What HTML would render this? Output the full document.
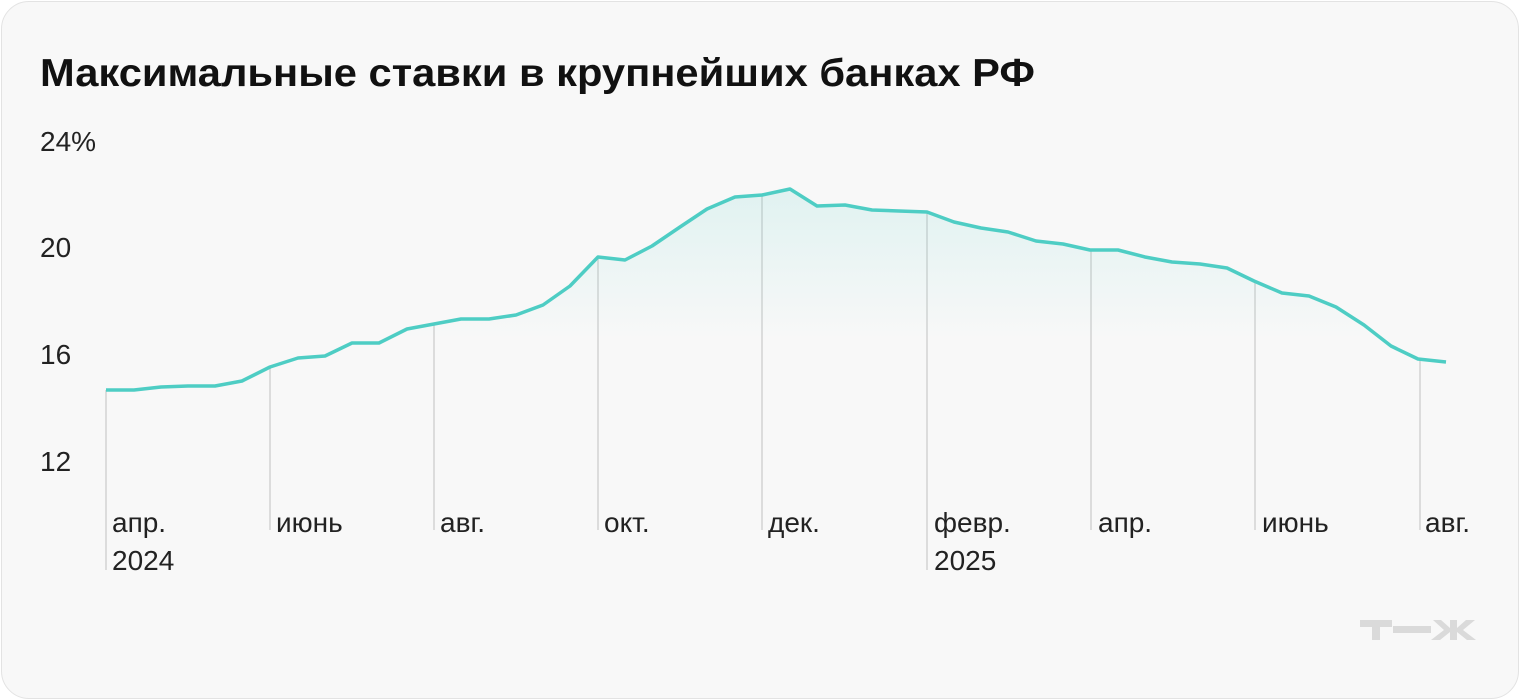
<!DOCTYPE html>
<html><head><meta charset="utf-8"><style>
html,body{margin:0;padding:0;background:#fff;}
.card{position:absolute;left:1px;top:1px;width:1516px;height:696px;border:1px solid #e3e3e3;border-radius:28px;background:#f8f8f8;overflow:hidden;}
svg{position:absolute;left:0;top:0;}
text{font-family:"Liberation Sans",sans-serif;}
</style></head><body>
<div class="card"></div>
<svg width="1520" height="700" viewBox="0 0 1520 700">
<defs><linearGradient id="g" x1="0" y1="190" x2="0" y2="340" gradientUnits="userSpaceOnUse">
<stop offset="0" stop-color="#4ecdc4" stop-opacity="0.14"/><stop offset="1" stop-color="#4ecdc4" stop-opacity="0"/></linearGradient></defs>
<text x="40" y="86" font-size="39" font-weight="bold" fill="#111" textLength="995" lengthAdjust="spacingAndGlyphs">Максимальные ставки в крупнейших банках РФ</text>
<g font-size="28" fill="#222">
<text x="40" y="151">24%</text><text x="40" y="257">20</text><text x="40" y="364">16</text><text x="40" y="471">12</text>
</g>
<g stroke="#dcdcdc" stroke-width="2">
<line x1="106" y1="390" x2="106" y2="570"/><line x1="270" y1="367" x2="270" y2="530"/><line x1="434" y1="324" x2="434" y2="530"/>
<line x1="598" y1="257" x2="598" y2="530"/><line x1="762" y1="195" x2="762" y2="530"/><line x1="927" y1="212" x2="927" y2="570"/>
<line x1="1091" y1="250" x2="1091" y2="530"/><line x1="1255" y1="281" x2="1255" y2="530"/><line x1="1420" y1="359" x2="1420" y2="530"/>
</g>
<path fill="url(#g)" d="M106,390 L134,390 161,387 188,386 215,386 242,381 270,367 298,358 325,356 352,343 379,343 407,329 434,324 461,319 489,319 516,315 543,305 570,286 598,257 625,260 652,246 680,227 707,209 735,197 762,195 790,189 817,206 845,205 872,210 899,211 927,212 954,222 981,228 1008,232 1036,241 1063,244 1090,250 1118,250 1145,257 1172,262 1200,264 1227,268 1254,281 1282,293 1309,296 1336,307 1364,325 1391,346 1418,359 1446,362 L1446,470 L106,470Z"/>
<polyline fill="none" stroke="#4ecdc4" stroke-width="3.5" stroke-linejoin="round" points="106,390 134,390 161,387 188,386 215,386 242,381 270,367 298,358 325,356 352,343 379,343 407,329 434,324 461,319 489,319 516,315 543,305 570,286 598,257 625,260 652,246 680,227 707,209 735,197 762,195 790,189 817,206 845,205 872,210 899,211 927,212 954,222 981,228 1008,232 1036,241 1063,244 1090,250 1118,250 1145,257 1172,262 1200,264 1227,268 1254,281 1282,293 1309,296 1336,307 1364,325 1391,346 1418,359 1446,362"/>
<g font-size="28" fill="#222">
<text x="112" y="532">апр.</text><text x="112" y="570">2024</text>
<text x="276" y="532">июнь</text><text x="440" y="532">авг.</text><text x="604" y="532">окт.</text>
<text x="768" y="532">дек.</text><text x="934" y="532">февр.</text><text x="934" y="570">2025</text>
<text x="1098" y="532">апр.</text><text x="1262" y="532">июнь</text><text x="1425" y="532">авг.</text>
</g>
<g fill="#dadada">
<rect x="1360" y="620" width="32" height="7"/><rect x="1372" y="620" width="8" height="20"/>
<rect x="1393" y="626" width="38" height="7"/>
<polygon points="1433,620 1441,620 1450,628 1450,620 1457,620 1457,628 1466,620 1475,620 1463,630 1476,640 1467,640 1457,632 1457,640 1450,640 1450,632 1440,640 1431,640 1444,630"/>
</g>
</svg>
</body></html>
